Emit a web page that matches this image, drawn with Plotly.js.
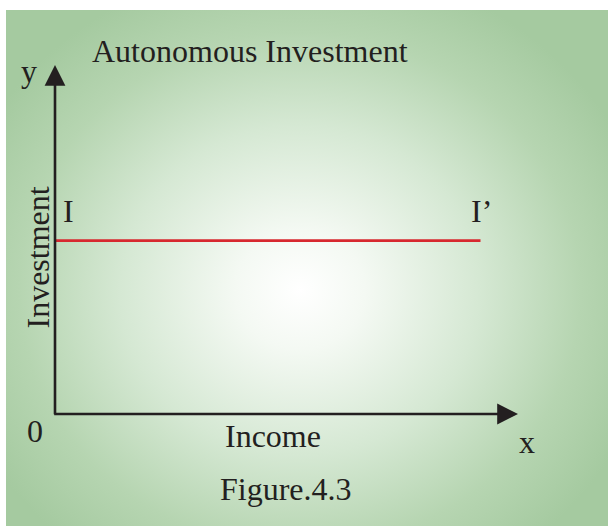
<!DOCTYPE html>
<html>
<head>
<meta charset="utf-8">
<script src="https://cdn.plot.ly/plotly-3.0.1.min.js"></script>
<style>
  html, body { margin: 0; padding: 0; background: #ffffff; }
  #wrap { position: relative; width: 608px; height: 526px; overflow: hidden; }
  #bg { position: absolute; left: 6px; top: 10px; width: 602px; height: 516px;
        background: radial-gradient(ellipse 360px 330px at 294px 280px, #ffffff 0%, #f4f9f3 18%, #d5e8d3 50%, #b6d5b1 78%, #a5caa0 100%); }
  #chart { position: absolute; left: 0; top: 0; width: 608px; height: 526px; }
</style>
</head>
<body>
<div id="wrap">
  <div id="bg"></div>
  <div id="chart"></div>
</div>
<script>
// Data
const incomeLevels = [0, 9.19];
const investmentLevels = [4.97, 4.97];
const chartTitle = "Autonomous Investment";
const xAxisLabel = "Income";
const yAxisLabel = "Investment";
const figureCaption = "Figure.4.3";
const lineStartLabel = "I";
const lineEndLabel = "I\u2019";

const serif = "Liberation Serif, Times New Roman, serif";
const txt = "#231f20";
const fs = 32;

const traces = [{
  x: incomeLevels,
  y: investmentLevels,
  mode: "lines",
  line: { color: "#d7282f", width: 2.8 },
  hoverinfo: "skip",
  showlegend: false
}];

const layout = {
  width: 608, height: 526,
  margin: { l: 55, r: 90, t: 65, b: 112 },
  paper_bgcolor: "rgba(0,0,0,0)",
  plot_bgcolor: "rgba(0,0,0,0)",
  showlegend: false,
  xaxis: { range: [0, 10], showgrid: false, zeroline: false, showline: false, showticklabels: false, ticks: "", fixedrange: true },
  yaxis: { range: [0, 10], showgrid: false, zeroline: false, showline: false, showticklabels: false, ticks: "", fixedrange: true },
  font: { family: serif, color: txt },
  annotations: [
    // x axis arrow
    { x: 10, y: 0, ax: -0.05, ay: 0, xref: "x", yref: "y", axref: "x", ayref: "y",
      showarrow: true, arrowhead: 2, arrowsize: 1.6, arrowwidth: 2.6, arrowcolor: txt, text: "" },
    // y axis arrow
    { x: 0, y: 10, ax: 0, ay: -0.05, xref: "x", yref: "y", axref: "x", ayref: "y",
      showarrow: true, arrowhead: 2, arrowsize: 1.6, arrowwidth: 2.6, arrowcolor: txt, text: "" },
    { text: chartTitle, xref: "paper", yref: "paper", x: 35 / 463, y: 1, xanchor: "left", yanchor: "middle", yshift: 14,
      showarrow: false, font: { family: serif, size: fs, color: txt } },
    { text: "y", xref: "paper", yref: "paper", x: 0, y: 1, xanchor: "center", yanchor: "middle", xshift: -26.5, yshift: -6,
      showarrow: false, font: { family: serif, size: fs, color: txt } },
    { text: "x", xref: "paper", yref: "paper", x: 1, y: 0, xanchor: "center", yanchor: "middle", xshift: 8.5, yshift: -28,
      showarrow: false, font: { family: serif, size: fs, color: txt } },
    { text: "0", xref: "paper", yref: "paper", x: 0, y: 0, xanchor: "center", yanchor: "middle", xshift: -20.5, yshift: -16.5,
      showarrow: false, font: { family: serif, size: fs, color: txt } },
    { text: xAxisLabel, xref: "paper", yref: "paper", x: (272.5 - 55) / 463, y: 0, xanchor: "center", yanchor: "middle", yshift: -22,
      showarrow: false, font: { family: serif, size: fs, color: txt } },
    { text: yAxisLabel, xref: "paper", yref: "paper", x: 0, y: 0.447, xanchor: "center", yanchor: "middle", xshift: -17.5, textangle: -90,
      showarrow: false, font: { family: serif, size: fs, color: txt } },
    { text: lineStartLabel, xref: "x", yref: "y", x: incomeLevels[0], y: investmentLevels[0], xanchor: "center", yanchor: "middle", xshift: 13.5, yshift: 30,
      showarrow: false, font: { family: serif, size: fs, color: txt } },
    { text: lineEndLabel, xref: "x", yref: "y", x: incomeLevels[1], y: investmentLevels[1], xanchor: "center", yanchor: "middle", xshift: 1, yshift: 30,
      showarrow: false, font: { family: serif, size: fs, color: txt } },
    { text: figureCaption, xref: "paper", yref: "paper", x: (286 - 55) / 463, y: 0, xanchor: "center", yanchor: "middle", yshift: -75,
      showarrow: false, font: { family: serif, size: fs, color: txt } }
  ]
};

Plotly.newPlot("chart", traces, layout, { displayModeBar: false, staticPlot: true });
</script>
</body>
</html>
